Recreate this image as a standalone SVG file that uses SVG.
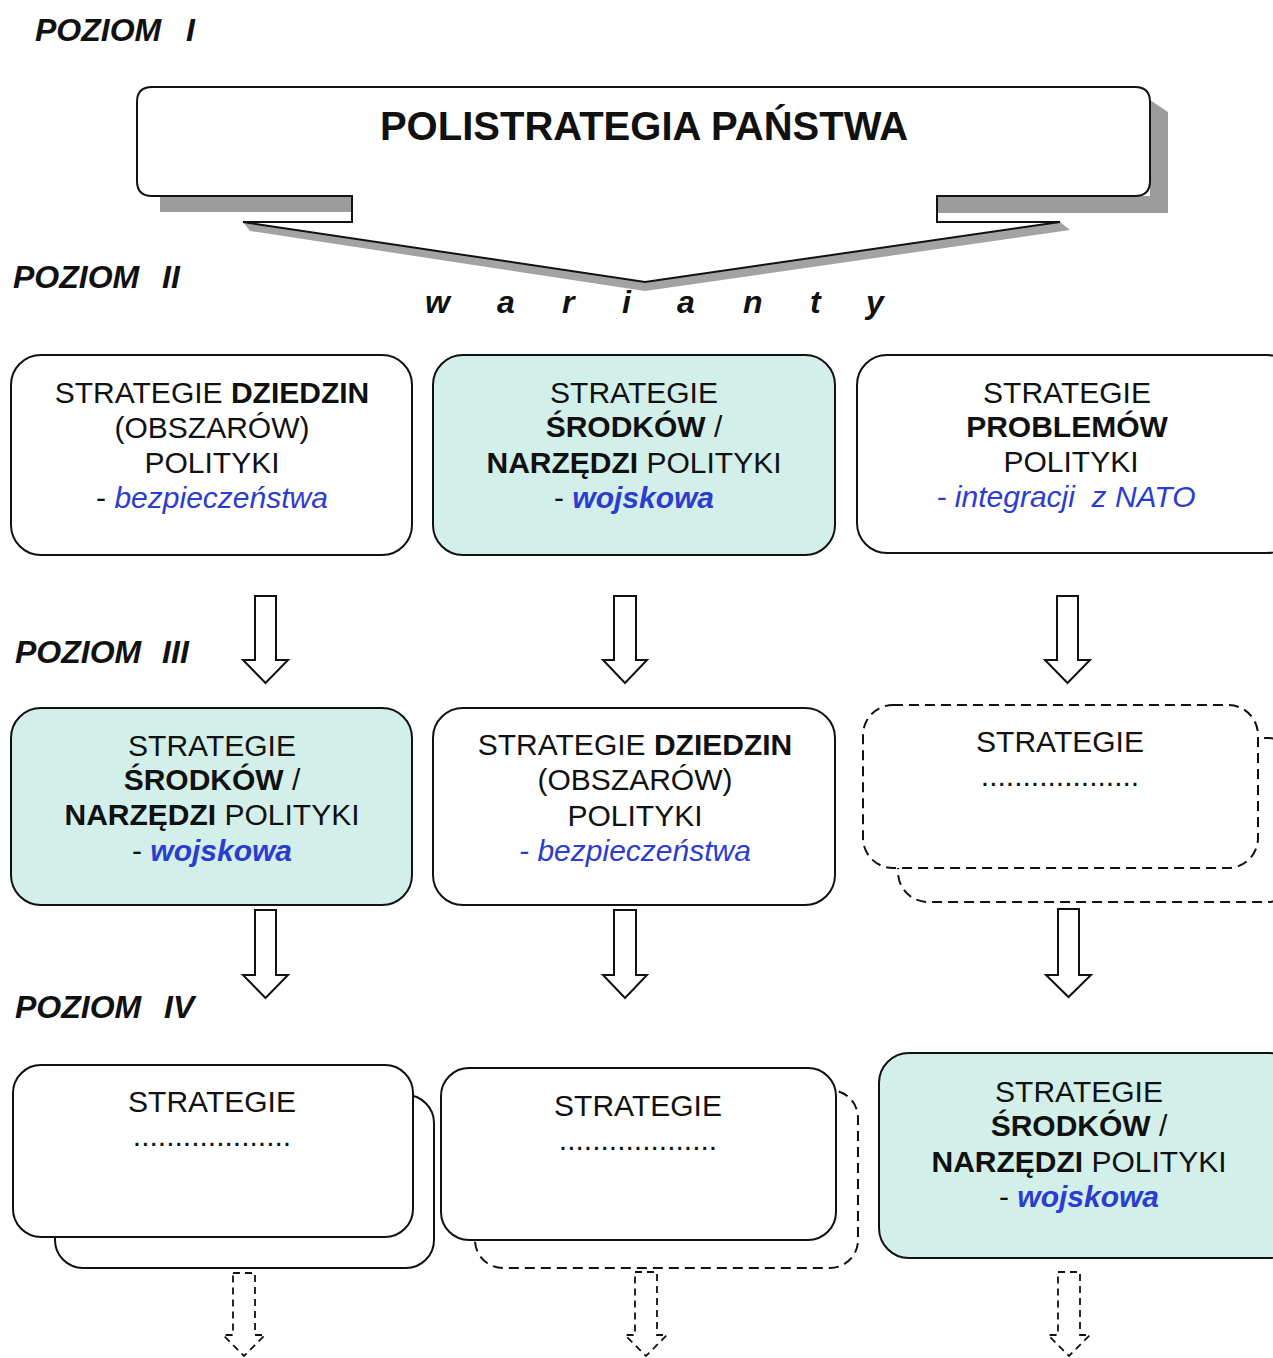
<svg xmlns="http://www.w3.org/2000/svg" width="1273" height="1358" viewBox="0 0 1273 1358">
<style>
text{font-family:"Liberation Sans",Arial,sans-serif;fill:#111}
.lvl{font-size:32px;font-weight:bold;font-style:italic}
.t{font-size:30px;text-anchor:middle}
.b{font-weight:bold}
.bl{fill:#2b3ccf;font-style:italic}
.box{fill:#fff;stroke:#111;stroke-width:2}
.cy{fill:#d2efe9;stroke:#111;stroke-width:2}
.dash{fill:#fff;stroke:#111;stroke-width:2;stroke-dasharray:10 6}
.arr{fill:#fff;stroke:#111;stroke-width:2}
.darr{fill:#fff;stroke:#111;stroke-width:1.8;stroke-dasharray:7 5}
</style>
<rect width="1273" height="1358" fill="#fff"/>

<text class="lvl" x="35" y="41" word-spacing="16">POZIOM I</text>
<text class="lvl" x="13" y="288" word-spacing="14">POZIOM II</text>
<text class="lvl" x="15" y="663" word-spacing="12">POZIOM III</text>
<text class="lvl" x="15" y="1018" word-spacing="14">POZIOM IV</text>

<g id="polistrategia">
  <path d="M352,212 L160,212 L160,196 L1150,196 L1150,100 L1168,112 L1168,213 L937,213 L937,212 Z" fill="#9c9c9c"/>
  <polygon points="243,222 645,282 1060,222 1070,230 645,291 250,231" fill="#a3a3a3"/>
  <path class="box" d="M352,196 L152,196 Q137,196 137,181 L137,102 Q137,87 152,87 L1135,87 Q1150,87 1150,102 L1150,181 Q1150,196 1135,196 L937,196 L937,222 L1060,222 L645,282 L243,222 L352,222 Z"/>
  <text x="644" y="140" font-size="40" font-weight="bold" text-anchor="middle">POLISTRATEGIA PAŃSTWA</text>
</g>

<g id="warianty" font-size="32" font-weight="bold" font-style="italic">
  <text x="425" y="313">w</text><text x="497" y="313">a</text><text x="562" y="313">r</text><text x="622" y="313">i</text><text x="677" y="313">a</text><text x="743" y="313">n</text><text x="810" y="313">t</text><text x="866" y="313">y</text>
</g>

<g id="n-dziedzin-1">
  <rect class="box" x="11" y="355" width="401" height="200" rx="30"/>
  <text class="t" x="212" y="403">STRATEGIE <tspan class="b">DZIEDZIN</tspan></text>
  <text class="t" x="212" y="438">(OBSZARÓW)</text>
  <text class="t" x="212" y="473">POLITYKI</text>
  <text class="t" x="212" y="508">- <tspan class="bl">bezpieczeństwa</tspan></text>
</g>
<g id="n-srodkow-1">
  <rect class="cy" x="433" y="355" width="402" height="200" rx="30"/>
  <text class="t" x="634" y="403">STRATEGIE</text>
  <text class="t" x="634" y="437"><tspan class="b">ŚRODKÓW</tspan> /</text>
  <text class="t" x="634" y="473"><tspan class="b">NARZĘDZI</tspan> POLITYKI</text>
  <text class="t" x="634" y="508">- <tspan class="bl b">wojskowa</tspan></text>
</g>
<g id="n-problemow">
  <rect class="box" x="857" y="355" width="440" height="198" rx="30"/>
  <text class="t" x="1067" y="403">STRATEGIE</text>
  <text class="t b" x="1067" y="437">PROBLEMÓW</text>
  <text class="t" x="1071" y="472">POLITYKI</text>
  <text class="t bl" x="1066" y="507" xml:space="preserve">- integracji  z NATO</text>
</g>

<g id="n-srodkow-2">
  <rect class="cy" x="11" y="708" width="401" height="197" rx="30"/>
  <text class="t" x="212" y="756">STRATEGIE</text>
  <text class="t" x="212" y="790"><tspan class="b">ŚRODKÓW</tspan> /</text>
  <text class="t" x="212" y="825"><tspan class="b">NARZĘDZI</tspan> POLITYKI</text>
  <text class="t" x="212" y="861">- <tspan class="bl b">wojskowa</tspan></text>
</g>
<g id="n-dziedzin-2">
  <rect class="box" x="433" y="708" width="402" height="197" rx="30"/>
  <text class="t" x="635" y="755">STRATEGIE <tspan class="b">DZIEDZIN</tspan></text>
  <text class="t" x="635" y="790">(OBSZARÓW)</text>
  <text class="t" x="635" y="826">POLITYKI</text>
  <text class="t bl" x="635" y="861">- bezpieczeństwa</text>
</g>
<g id="n-strategie-f">
  <rect class="dash" x="898" y="738" width="400" height="164" rx="30"/>
  <rect class="dash" x="863" y="705" width="395" height="163" rx="30"/>
  <text class="t" x="1060" y="752">STRATEGIE</text>
  <text class="t" x="1060" y="786" font-size="28">...................</text>
</g>

<g id="n-strategie-g">
  <rect class="box" x="55" y="1095" width="379" height="173" rx="28"/>
  <rect class="box" x="13" y="1065" width="400" height="172" rx="28"/>
  <text class="t" x="212" y="1112">STRATEGIE</text>
  <text class="t" x="212" y="1146" font-size="28">...................</text>
</g>
<g id="n-strategie-h">
  <rect class="dash" x="475" y="1090" width="383" height="178" rx="28"/>
  <rect class="box" x="441" y="1068" width="395" height="172" rx="28"/>
  <text class="t" x="638" y="1116">STRATEGIE</text>
  <text class="t" x="638" y="1150" font-size="28">...................</text>
</g>
<g id="n-srodkow-3">
  <rect class="cy" x="879" y="1053" width="420" height="205" rx="30"/>
  <text class="t" x="1079" y="1102">STRATEGIE</text>
  <text class="t" x="1079" y="1136"><tspan class="b">ŚRODKÓW</tspan> /</text>
  <text class="t" x="1079" y="1172"><tspan class="b">NARZĘDZI</tspan> POLITYKI</text>
  <text class="t" x="1079" y="1207">- <tspan class="bl b">wojskowa</tspan></text>
</g>

<g id="connectors">
  <path class="arr" d="M255,596 H276 V660 H288 L265.5,683 L243,660 H255 Z"/>
  <path class="arr" d="M614,596 H636 V660 H647 L625,683 L603,660 H614 Z"/>
  <path class="arr" d="M1057,596 H1078 V660 H1090 L1067.5,683 L1045,660 H1057 Z"/>
  <path class="arr" d="M255,910 H276 V975 H288 L265.5,998 L243,975 H255 Z"/>
  <path class="arr" d="M614,910 H636 V975 H647 L625,998 L603,975 H614 Z"/>
  <path class="arr" d="M1058,909 H1079 V975 H1091 L1068.5,997 L1046,975 H1058 Z"/>
  <path class="darr" d="M233,1273 H255 V1335 H265 L244,1356 L223,1335 H233 Z"/>
  <path class="darr" d="M635,1272 H657 V1335 H667 L646,1356 L625,1335 H635 Z"/>
  <path class="darr" d="M1058,1272 H1080 V1335 H1090 L1069,1356 L1048,1335 H1058 Z"/>
</g>
</svg>
